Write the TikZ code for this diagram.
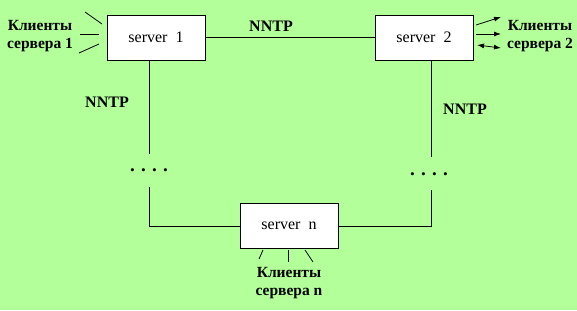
\documentclass[tikz,border=0pt]{standalone}
\usepackage{fontspec}
\setmainfont{Liberation Serif}
\usetikzlibrary{arrows.meta, positioning}
\definecolor{NetGreen}{RGB}{179,255,153}

\tikzset{
  srvbox/.style={draw, fill=white, line width=0.8pt, minimum width=98pt,
    minimum height=45pt, inner sep=0pt, font=\fontsize{16}{18}\selectfont},
  proto/.style={font=\fontsize{16}{18}\selectfont\bfseries},
  clients/.style={align=center, font=\fontsize{15.5}{18}\selectfont\bfseries},
  dotrow/.style={font=\fontsize{19}{19}\selectfont\bfseries, inner sep=1pt},
  link/.style={line width=0.8pt},
  tip/.style={line width=0.8pt, -{Latex[length=7pt,width=5pt]}},
  dtip/.style={line width=0.8pt, {Latex[length=7pt,width=5pt]}-{Latex[length=7pt,width=5pt]}}
}

\begin{document}
\begin{tikzpicture}[x=1pt,y=-1pt]
  \path[use as bounding box] (0,0) rectangle (577,310);
  \fill[NetGreen] (0,0) rectangle (577,310);

  % servers
  \node[srvbox] (s1) at (156,37.5) {server\ \ 1};
  \node[srvbox] (s2) at (424,37.5) {server\ \ 2};
  \node[srvbox] (sn) at (289,226) {server\ \ n};

  % dots on the side links
  \node[dotrow] (d1) at (149,170) {. . . .};
  \node[dotrow] (d2) at (429,174) {. . . .};
  \coordinate (l1) at (149,154);
  \coordinate (l2) at (149,187);
  \coordinate (r1) at (431,157);
  \coordinate (r2) at (431,190);

  % links between servers
  \draw[link] (s1) -- (s2);
  \draw[link] (l1) -- (l1 |- s1.south);
  \draw[link] (l2) |- (sn.west);
  \draw[link] (r1) -- (r1 |- s2.south);
  \draw[link] (r2) |- (sn.east);

  \node[proto] (p12) at (271,26) {NNTP};
  \node[proto] (p1n) at (107,102) {NNTP};
  \node[proto] (p2n) at (465,109) {NNTP};

  % clients
  \node[clients] (c1) at (40,36) {Клиенты\\сервера 1};
  \node[clients] (c2) at (540,36) {Клиенты\\сервера 2};
  \node[clients] (cn) at (289,283) {Клиенты\\сервера n};

  \draw[link] (85,12) -- (102,24);
  \draw[link] (80,34) -- (99,34);
  \draw[link] (79,53) -- (99,44);

  \draw[tip] (476,25) -- (501,17);
  \draw[tip] (476,34) -- (501,34);
  \draw[dtip] (477,45) -- (501,48);

  \draw[link] (263,250) -- (259,259);
  \draw[link] (288,250) -- (288,262);
  \draw[link] (305,250) -- (313,262);
\end{tikzpicture}
\end{document}
